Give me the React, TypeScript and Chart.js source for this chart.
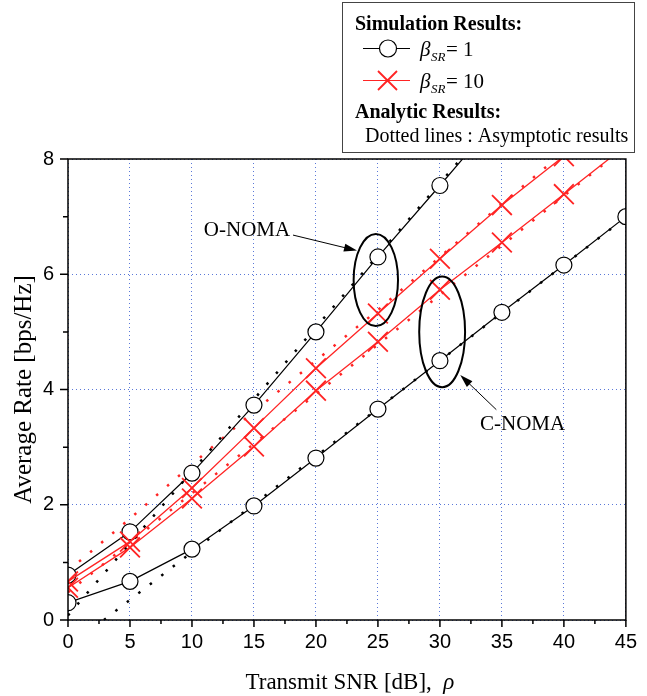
import React, { useEffect, useRef } from "react";
import { Chart, registerables } from "chart.js";
Chart.register(...registerables);

// ---- data (Average Rate [bps/Hz] vs Transmit SNR [dB]) ----
const snrDb = [0, 5, 10, 15, 20, 25, 30, 35, 40, 45];
const oNomaBeta1 = [0.78, 1.53, 2.55, 3.73, 5.0, 6.3, 7.54, 8.8];
const cNomaBeta1 = [0.3, 0.67, 1.23, 1.98, 2.81, 3.66, 4.5, 5.34, 6.16, 7.0];
const oNomaBeta10 = [0.67, 1.36, 2.29, 3.33, 4.37, 5.32, 6.27, 7.2, 8.05];
const cNomaBeta10 = [0.56, 1.26, 2.11, 3.01, 3.98, 4.83, 5.73, 6.55, 7.39, 8.23];

// asymptotic (dotted) results
const oNomaBeta1AsymX = [0, 5, 10, 15, 20, 25, 30, 35];
const oNomaBeta1Asym = [0.08, 1.33, 2.58, 3.83, 5.08, 6.33, 7.58, 8.83];
const cNomaBeta1AsymX = [2.9, 5, 10, 15, 20, 25, 30, 35, 40, 45];
const cNomaBeta1Asym = [0, 0.35, 1.18, 2.01, 2.84, 3.67, 4.5, 5.33, 6.16, 6.99];
const oNomaBeta10AsymX = [0, 5, 10, 15, 20, 25, 30, 35, 40, 45];
const oNomaBeta10Asym = [0.85, 1.76, 2.7, 3.62, 4.5, 5.38, 6.3, 7.22, 8.12, 9.02];
const cNomaBeta10AsymX = [0, 5, 10, 15, 20, 25, 30, 35, 40, 45];
const cNomaBeta10Asym = [0.48, 1.34, 2.2, 3.06, 3.92, 4.78, 5.64, 6.5, 7.36, 8.22];

const xTicks = [0, 5, 10, 15, 20, 25, 30, 35, 40, 45];
const yTicks = [0, 2, 4, 6, 8];

const SERIF = '"Liberation Serif", "Times New Roman", serif';
const SANS = '"Liberation Sans", Arial, sans-serif';
const RED = "#ff2424";
const GRID = "#5a78d8";

const pts = (xs: number[], ys: number[]) => ys.map((v, i) => ({ x: xs[i], y: v }));

function arrow(ctx: CanvasRenderingContext2D, x1: number, y1: number, x2: number, y2: number) {
  const ang = Math.atan2(y2 - y1, x2 - x1);
  const L = 13, W = 4;
  ctx.beginPath();
  ctx.moveTo(x1, y1);
  ctx.lineTo(x2 - L * Math.cos(ang) * 0.8, y2 - L * Math.sin(ang) * 0.8);
  ctx.stroke();
  ctx.beginPath();
  ctx.moveTo(x2, y2);
  ctx.lineTo(x2 - L * Math.cos(ang) + W * Math.sin(ang), y2 - L * Math.sin(ang) - W * Math.cos(ang));
  ctx.lineTo(x2 - L * Math.cos(ang) - W * Math.sin(ang), y2 - L * Math.sin(ang) + W * Math.cos(ang));
  ctx.closePath();
  ctx.fill();
}

const decor = {
  id: "decor",
  afterDatasetsDraw(chart: any) {
    const { ctx, chartArea: a, scales } = chart;
    const x = scales.x, y = scales.y;
    ctx.save();
    // ellipses
    ctx.strokeStyle = "#000";
    ctx.lineWidth = 2;
    const ell = (cx: number, cy: number, rx: number, ry: number) => {
      const px = x.getPixelForValue(cx), py = y.getPixelForValue(cy);
      const prx = x.getPixelForValue(cx + rx) - px;
      const pry = py - y.getPixelForValue(cy + ry);
      ctx.beginPath();
      ctx.ellipse(px, py, prx, pry, 0, 0, Math.PI * 2);
      ctx.stroke();
    };
    ell(24.83, 5.9, 1.79, 0.8);
    ell(30.18, 5.0, 1.85, 0.96);
    // arrows
    ctx.lineWidth = 1;
    ctx.fillStyle = "#000";
    arrow(ctx, x.getPixelForValue(18.15), y.getPixelForValue(6.68), x.getPixelForValue(23.31), y.getPixelForValue(6.41));
    arrow(ctx, x.getPixelForValue(34.55), y.getPixelForValue(3.65), x.getPixelForValue(31.64), y.getPixelForValue(4.25));
    // labels
    ctx.font = `21px ${SERIF}`;
    ctx.textAlign = "center";
    ctx.textBaseline = "alphabetic";
    ctx.fillText("O-NOMA", x.getPixelForValue(14.44), y.getPixelForValue(6.66));
    ctx.fillText("C-NOMA", x.getPixelForValue(36.67), y.getPixelForValue(3.3));

    // frame
    ctx.lineWidth = 1.5;
    ctx.strokeStyle = "#000";
    ctx.strokeRect(a.left, a.top, a.right - a.left, a.bottom - a.top);
    // ticks
    ctx.beginPath();
    for (let v = 0; v <= 45; v += 2.5) {
      const px = x.getPixelForValue(v);
      const major = v % 5 === 0;
      ctx.moveTo(px, a.bottom);
      ctx.lineTo(px, a.bottom + (major ? 7 : 4));
    }
    for (let v = 0; v <= 8; v += 1) {
      const py = y.getPixelForValue(v);
      const major = v % 2 === 0;
      ctx.moveTo(a.left, py);
      ctx.lineTo(a.left - (major ? 8 : 5), py);
    }
    ctx.stroke();

    // axis titles
    ctx.fillStyle = "#000";
    ctx.font = `23px ${SERIF}`;
    ctx.textAlign = "left";
    const t1 = "Transmit SNR [dB],  ";
    const w1 = ctx.measureText(t1).width;
    ctx.font = `italic 23px ${SERIF}`;
    const w2 = ctx.measureText("ρ").width;
    const sx = (a.left + a.right) / 2 + 3 - (w1 + w2) / 2;
    ctx.font = `23px ${SERIF}`;
    ctx.fillText(t1, sx, 689);
    ctx.font = `italic 23px ${SERIF}`;
    ctx.fillText("ρ", sx + w1, 689);

    ctx.save();
    ctx.translate(31, (a.top + a.bottom) / 2);
    ctx.rotate(-Math.PI / 2);
    ctx.textAlign = "center";
    ctx.font = `25px ${SERIF}`;
    ctx.fillText("Average Rate [bps/Hz]", 0, 0);
    ctx.restore();

    // legend box
    ctx.fillStyle = "#fff";
    ctx.fillRect(342.5, 2.5, 292, 150);
    ctx.strokeStyle = "#444";
    ctx.lineWidth = 1;
    ctx.strokeRect(342.5, 2.5, 292, 150);
    ctx.fillStyle = "#000";
    ctx.textAlign = "left";
    ctx.font = `bold 20px ${SERIF}`;
    ctx.fillText("Simulation Results:", 355, 29.5);
    ctx.fillText("Analytic Results:", 355, 117.5);
    ctx.font = `20px ${SERIF}`;
    ctx.fillText("Dotted lines : Asymptotic results", 365, 142);

    // row 1
    ctx.strokeStyle = "#000";
    ctx.lineWidth = 1.2;
    ctx.beginPath();
    ctx.moveTo(363, 48.5);
    ctx.lineTo(410, 48.5);
    ctx.stroke();
    ctx.beginPath();
    ctx.arc(388, 48.5, 8.5, 0, Math.PI * 2);
    ctx.fillStyle = "#fff";
    ctx.fill();
    ctx.stroke();
    // row 2
    ctx.strokeStyle = RED;
    ctx.beginPath();
    ctx.moveTo(363, 80.5);
    ctx.lineTo(410, 80.5);
    ctx.stroke();
    ctx.lineWidth = 1.8;
    ctx.beginPath();
    ctx.moveTo(378, 71);
    ctx.lineTo(397, 90);
    ctx.moveTo(397, 71);
    ctx.lineTo(378, 90);
    ctx.stroke();

    ctx.fillStyle = "#000";
    const betaRow = (base: number, val: string) => {
      ctx.font = `italic 21px ${SERIF}`;
      ctx.fillText("β", 420, base);
      ctx.font = `italic 13px ${SERIF}`;
      ctx.fillText("SR", 431, base + 5);
      ctx.font = `21px ${SERIF}`;
      ctx.fillText("= " + val, 446, base);
    };
    betaRow(55.5, "1");
    betaRow(87.5, "10");
    ctx.restore();
  },
};

export default function App() {
  const ref = useRef<HTMLCanvasElement | null>(null);
  useEffect(() => {
    if (!ref.current) return;
    const dotted = (xs: number[], ys: number[], color: string) => ({
      data: pts(xs, ys),
      borderColor: color,
      borderWidth: 2.5,
      borderDash: [2.5, 12],
      pointRadius: 0,
      fill: false,
      clip: 0,
      order: 5,
    });
    const black = (xs: number[], ys: number[]) => ({
      data: pts(xs, ys),
      borderColor: "#000",
      borderWidth: 1.2,
      pointStyle: "circle",
      pointRadius: 8,
      pointBackgroundColor: "#fff",
      pointBorderColor: "#000",
      pointBorderWidth: 1.2,
      fill: false,
      clip: 0,
      order: 3,
    });
    const red = (xs: number[], ys: number[]) => ({
      data: pts(xs, ys),
      borderColor: RED,
      borderWidth: 1.3,
      pointStyle: "crossRot",
      pointRadius: 14,
      pointBorderColor: RED,
      pointBorderWidth: 1.8,
      fill: false,
      clip: 0,
      order: 1,
    });
    const chart = new Chart(ref.current, {
      type: "line",
      data: {
        datasets: [
          dotted(oNomaBeta1AsymX, oNomaBeta1Asym, "#000"),
          dotted(cNomaBeta1AsymX, cNomaBeta1Asym, "#000"),
          dotted(oNomaBeta10AsymX, oNomaBeta10Asym, RED),
          dotted(cNomaBeta10AsymX, cNomaBeta10Asym, RED),
          black(snrDb, oNomaBeta1),
          black(snrDb, cNomaBeta1),
          red(snrDb, oNomaBeta10),
          red(snrDb, cNomaBeta10),
        ] as any,
      },
      options: {
        animation: false,
        responsive: false,
        devicePixelRatio: 1,
        events: [],
        layout: { padding: { top: 159, right: 12, left: 0, bottom: 0 } },
        plugins: { legend: { display: false }, tooltip: { enabled: false } },
        scales: {
          x: {
            type: "linear",
            min: 0,
            max: 45,
            afterFit: (s: any) => { s.height = 76; },
            afterBuildTicks: (s: any) => { s.ticks = xTicks.map((v) => ({ value: v })); },
            ticks: { color: "#000", font: { family: SANS, size: 20 }, padding: 10, maxRotation: 0 },
            grid: { color: GRID, lineWidth: 1, drawTicks: false },
            border: { display: false, dash: [1, 3] },
          },
          y: {
            type: "linear",
            min: 0,
            max: 8,
            afterFit: (s: any) => { s.width = 68; },
            afterBuildTicks: (s: any) => { s.ticks = yTicks.map((v) => ({ value: v })); },
            ticks: { color: "#000", font: { family: SANS, size: 20 }, padding: 14 },
            grid: { color: GRID, lineWidth: 1, drawTicks: false },
            border: { display: false, dash: [1, 3] },
          },
        },
      } as any,
      plugins: [decor],
    });
    return () => chart.destroy();
  }, []);
  return (
    <div style={{ position: "absolute", left: 0, top: 0, width: 647, height: 696, background: "#fff" }}>
      <canvas ref={ref} width={647} height={696} style={{ width: 647, height: 696, display: "block" }} />
    </div>
  );
}
